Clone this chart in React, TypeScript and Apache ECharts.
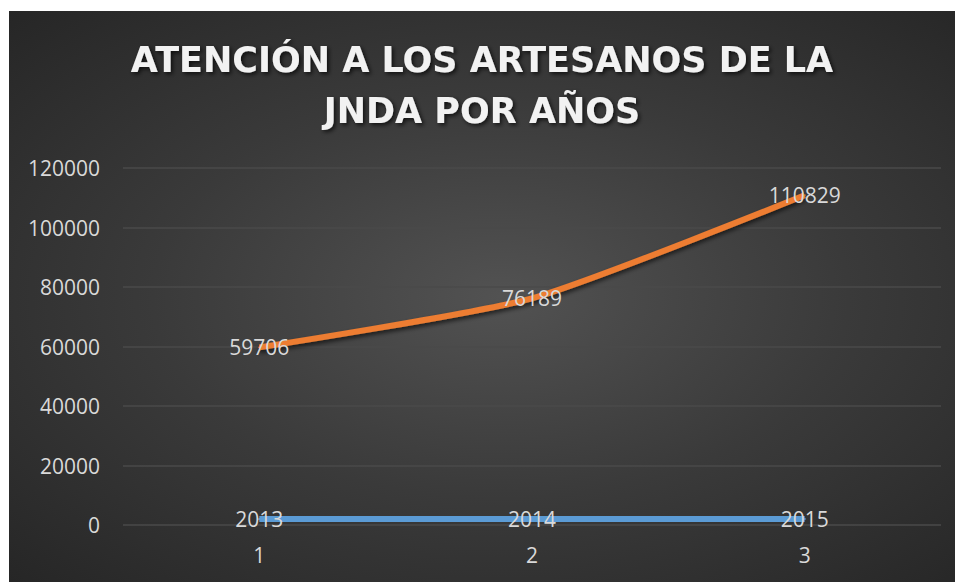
import React, { useEffect, useRef } from "react";
import * as echarts from "echarts";

const categories = ["1", "2", "3"];
const atencion = [59706, 76189, 110829];
const anios = [2013, 2014, 2015];
const yTicks = { min: 0, max: 120000, interval: 20000 };
const titleText = "ATENCIÓN A LOS ARTESANOS DE LA\nJNDA POR AÑOS";

export default function App() {
  const ref = useRef<HTMLDivElement>(null);
  useEffect(() => {
    if (!ref.current) return;
    const chart = echarts.init(ref.current, null, { renderer: "svg" });
    const labelStyle = {
      show: true,
      position: "inside" as const,
      color: "#d9d9d9",
      fontSize: 21,
      fontFamily: "Open Sans",
    };
    chart.setOption({
      animation: false,
      backgroundColor: "transparent",
      title: {
        text: titleText,
        left: "center",
        top: 18,
        textStyle: {
          color: "#f2f2f2",
          fontSize: 35,
          fontWeight: "bold",
          fontFamily: "DejaVu Sans",
          lineHeight: 51,
          textShadowColor: "rgba(0,0,0,0.7)",
          textShadowBlur: 4,
          textShadowOffsetX: 2,
          textShadowOffsetY: 2,
        },
      },
      grid: { left: 114, right: 14, top: 157, bottom: 57, containLabel: false },
      xAxis: {
        type: "category",
        data: categories,
        boundaryGap: true,
        axisLine: { show: false },
        axisTick: { show: false },
        axisLabel: { color: "#d9d9d9", fontSize: 21, fontFamily: "Open Sans", margin: 19 },
      },
      yAxis: {
        type: "value",
        min: yTicks.min,
        max: yTicks.max,
        interval: yTicks.interval,
        axisLine: { show: false },
        axisTick: { show: false },
        axisLabel: {
          color: "#d9d9d9",
          fontSize: 21,
          fontFamily: "Open Sans",
          margin: 23,
          formatter: (v: number) => String(v),
        },
        splitLine: { lineStyle: { color: "#4a4a4a", width: 1.5 } },
      },
      series: [
        {
          type: "line",
          data: anios,
          symbol: "circle",
          symbolSize: 2,
          showSymbol: true,
          lineStyle: { color: "#5b9bd5", width: 6 },
          itemStyle: { color: "#5b9bd5" },
          label: labelStyle,
          z: 3,
        },
        {
          type: "line",
          data: atencion,
          smooth: 0.2,
          symbol: "circle",
          symbolSize: 2,
          showSymbol: true,
          lineStyle: { color: "#ed7d31", width: 6, shadowColor: "rgba(0,0,0,0.6)", shadowBlur: 4, shadowOffsetY: 3 },
          itemStyle: { color: "#ed7d31" },
          label: labelStyle,
          z: 3,
        },
      ],
    });
    return () => chart.dispose();
  }, []);
  return (
    <div
      style={{
        position: "absolute",
        left: 9,
        top: 11,
        width: 946,
        height: 571,
        background: "radial-gradient(ellipse at 52% 50%, #525252 0%, #3a3a3a 50%, #262626 100%)",
      }}
    >
      <div ref={ref} style={{ width: 946, height: 571 }} />
    </div>
  );
}
